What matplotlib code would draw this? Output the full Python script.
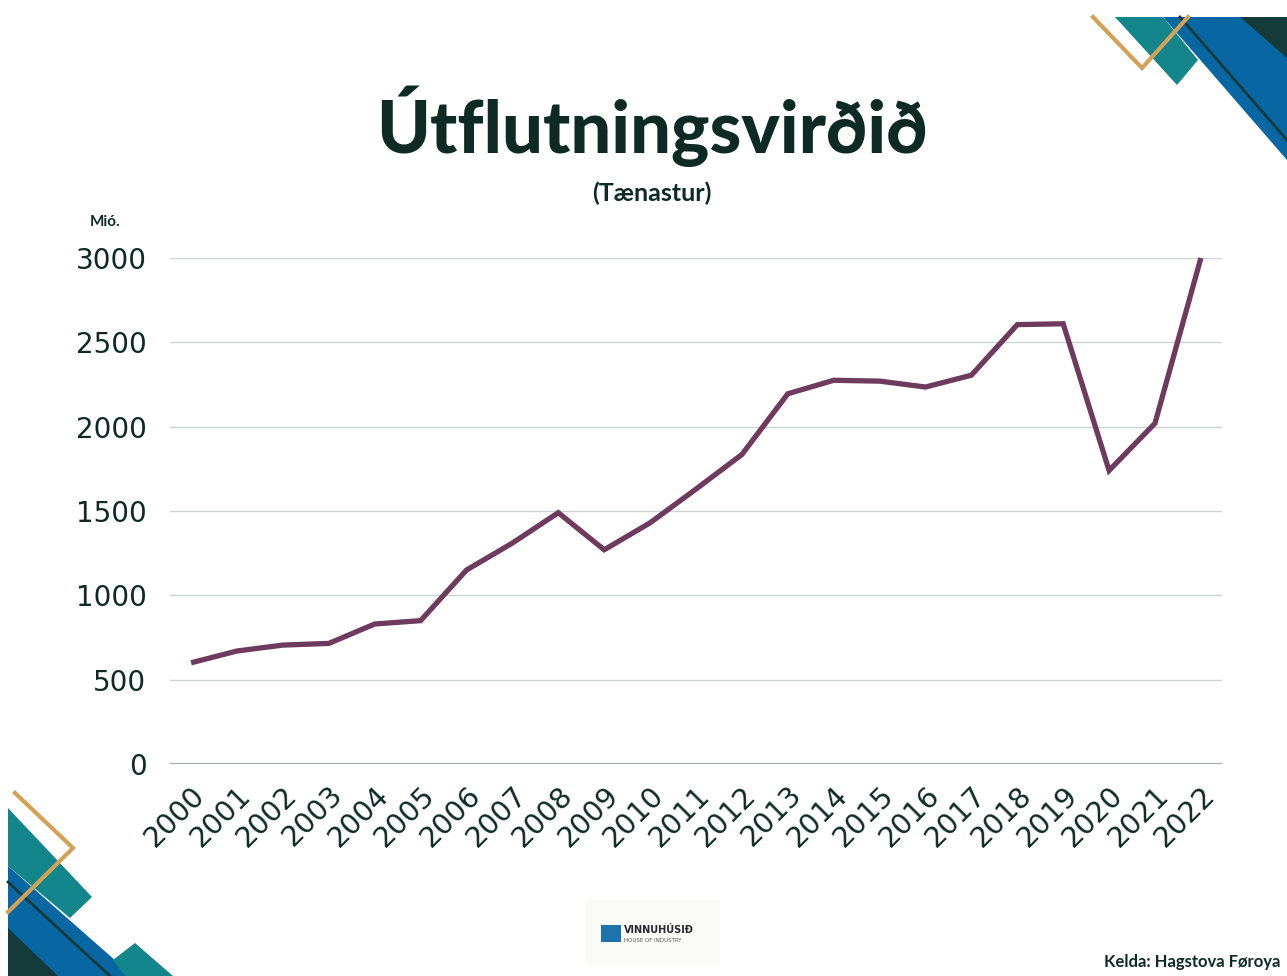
import matplotlib
matplotlib.use("Agg")
from matplotlib import pyplot as plt
from matplotlib.patches import Polygon, Rectangle

# data (mió. kr)
years = [str(y) for y in range(2000, 2023)]
values = [600, 670, 705, 715, 830, 850, 1150, 1310, 1490, 1270, 1430, 1630,
          1835, 2195, 2275, 2270, 2235, 2305, 2605, 2610, 1740, 2020, 3000]
yticks = [0, 500, 1000, 1500, 2000, 2500, 3000]

TXT = "#0d2b24"
LINE = "#6e3a5e"
W, H = 1287, 976

fig = plt.figure(figsize=(W / 100, H / 100), dpi=100)
fig.patch.set_facecolor("white")

# decoration layer in pixel coordinates
deco = fig.add_axes([0, 0, 1, 1], zorder=0)
deco.set_xlim(0, W)
deco.set_ylim(H, 0)
deco.axis("off")


def poly(pts, color, z=1):
    deco.add_patch(Polygon(pts, closed=True, facecolor=color, edgecolor="none", zorder=z))


# top right corner
poly([(1163, 17), (1287, 17), (1287, 160)], "#0867a3")
poly([(1240, 17), (1287, 17), (1287, 58)], "#143a3a", 2)
deco.plot([1180, 1287], [17, 140], color="#143a3a", lw=2, zorder=2)
poly([(1115, 17), (1163, 17), (1198, 60), (1177, 85)], "#12868a", 2)
deco.plot([1093, 1142, 1188], [17, 68, 17], color="#d4a256", lw=3, zorder=3,
          solid_joinstyle="miter")

# bottom left corner
poly([(8, 808), (92, 897), (70, 918), (8, 866)], "#12868a")
poly([(8, 866), (133, 976), (8, 976)], "#0867a3", 2)
deco.plot([8, 110], [882, 976], color="#143a3a", lw=2, zorder=3)
poly([(8, 928), (58, 976), (8, 976)], "#143a3a", 3)
poly([(113, 960), (135, 943), (173, 976), (125, 976)], "#12868a", 2)
deco.plot([15, 73, 8], [793, 848, 912], color="#d4a256", lw=3, zorder=4,
          solid_joinstyle="miter")

# logo
deco.add_patch(Rectangle((585, 900), 135, 65, facecolor="#fafaf6", edgecolor="none", zorder=1))
deco.add_patch(Rectangle((601, 925), 20, 17, facecolor="#1f73ad", edgecolor="none", zorder=2))
deco.text(624, 930, "VINNUHÚSIÐ", fontsize=7, fontweight="bold", color="#2a2a2a",
          va="center", ha="left", family="DejaVu Sans", zorder=3)
deco.text(624, 940, "HOUSE OF INDUSTRY", fontsize=4, color="#555555",
          va="center", ha="left", family="DejaVu Sans", zorder=3)

# texts
fig.text(652 / W, 1 - 126 / H, "Útflutningsvirðið", fontsize=52, fontweight="black",
         family="Lato", color=TXT, ha="center", va="center")
fig.text(652 / W, 1 - 193 / H, "(Tænastur)", fontsize=18, fontweight="bold",
         family="Lato", color=TXT, ha="center", va="center")
fig.text(105 / W, 1 - 222 / H, "Mió.", fontsize=11, fontweight="bold",
         family="Lato", color=TXT, ha="center", va="center")
fig.text(1280 / W, 1 - 962 / H, "Kelda: Hagstova Føroya", fontsize=12, fontweight="bold",
         family="Lato", color=TXT, ha="right", va="center")

# chart
ax = fig.add_axes([170 / W, 1 - 764 / H, (1222 - 170) / W, (764 - 258) / H], zorder=5)
ax.patch.set_alpha(0)
x = range(len(years))
ax.plot(x, values, color=LINE, lw=3.8, solid_joinstyle="miter", solid_capstyle="butt",
        clip_on=False, zorder=3)
ax.set_ylim(0, 3000)
ax.set_xlim(-0.46, len(years) - 1 + 0.46)
ax.set_yticks(yticks)
ax.set_yticklabels([str(t) for t in yticks], fontsize=20, color=TXT, family="DejaVu Sans")
ax.set_xticks(list(x))
ax.set_xticklabels(years, fontsize=20.5, color=TXT, family="DejaVu Sans",
                   rotation=45, ha="right", rotation_mode="anchor")
ax.tick_params(axis="both", length=0)
ax.tick_params(axis="y", pad=17)
ax.tick_params(axis="x", pad=12)
for t in yticks[1:]:
    ax.axhline(t, color="#cdd3d3", lw=1, zorder=1)
ax.axhline(0, color="#a3adab", lw=1.6, zorder=1)
for s in ax.spines.values():
    s.set_visible(False)

fig.savefig("out.png", dpi=100)
